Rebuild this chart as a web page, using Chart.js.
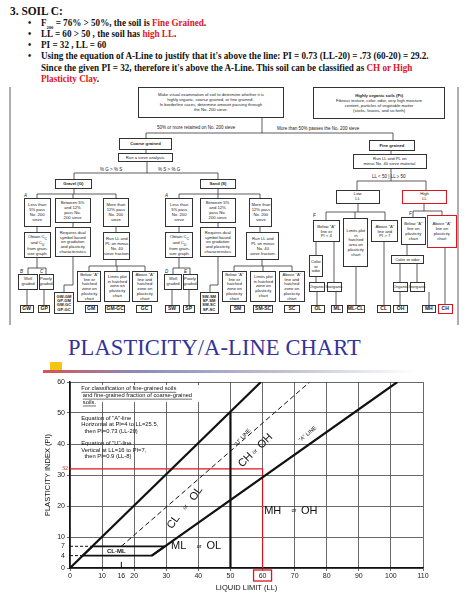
<!DOCTYPE html>
<html>
<head>
<meta charset="utf-8">
<script src="https://cdn.jsdelivr.net/npm/chart.js@4"></script>
<style>
  body { margin: 0; width: 474px; height: 602px; background: #fff; position: relative; overflow: hidden; font-family: "Liberation Serif", serif; }
  .hdr { position: absolute; font-weight: bold; font-size: 10px; color: #111; white-space: nowrap; transform: scaleX(0.91); transform-origin: left top; }
  .red { color: #e0141e; }
  .bx { position: absolute; border: 1px solid #333; box-sizing: border-box; font-family: "Liberation Sans", Arial, sans-serif;
        text-align: center; display: flex; align-items: center; justify-content: center; background: #fff; color: #222; }
  .bx span { display: block; font-size: 8.4px; line-height: 1.15; white-space: nowrap; transform: scale(0.5); }
  .code span { font-weight: bold; font-size: 10px; }
  .dual span { font-size: 8.2px; line-height: 1.05; }
  .rb { border: 1.5px solid #e0141e; }
  .lbl { position: absolute; font-family: "Liberation Sans", Arial, sans-serif; font-size: 9px; color: #222; white-space: nowrap; transform: scale(0.5); transform-origin: left top; }
  #title { position: absolute; left: 68px; top: 335px; font-size: 22.5px; color: #34339a; letter-spacing: 0.1px; }
  #chartBox { position: absolute; left: 0; top: 372px; width: 440px; height: 220px; }
</style>
</head>
<body>
<div class="hdr" style="left:10px;top:4px;font-size:12.5px">3. SOIL C:</div>
<div class="hdr" style="left:28px;top:17px">•</div><div class="hdr" style="left:41px;top:17px">F<sub style="font-size:5px">200</sub> = 76% &gt; 50%, the soil is <span class="red">Fine Grained</span>.</div>
<div class="hdr" style="left:28px;top:28px">•</div><div class="hdr" style="left:41px;top:28px">LL = 60 &gt; 50 , the soil has <span class="red">high LL</span>.</div>
<div class="hdr" style="left:28px;top:39px">•</div><div class="hdr" style="left:41px;top:39px">PI = 32 , LL = 60</div>
<div class="hdr" style="left:28px;top:50px">•</div><div class="hdr" style="left:41px;top:50px">Using the equation of A-Line to justify that it's above the line: PI = 0.73 (LL-20) = .73 (60-20) = 29.2.</div>
<div class="hdr" style="left:41px;top:62px">Since the given PI = 32, therefore it's above the A-Line. This soil can be classified as <span class="red">CH or High</span></div>
<div class="hdr" style="left:41px;top:73px"><span class="red">Plasticity Clay</span>.</div>

<svg id="links" width="474" height="330" style="position:absolute;left:0;top:0"></svg>
<div id="flow"></div>

<div id="title">PLASTICITY/A-LINE CHART</div>
<div style="position:absolute;left:50px;top:362px;width:12px;height:9px;background:#f3c515"></div>
<div style="position:absolute;left:43px;top:370px;width:372px;height:3px;background:linear-gradient(90deg,#d9534f,#8a8ab8 25%,#c8c8d8 70%,#fff)"></div>

<div id="chartBox"><canvas id="plasticityChart"></canvas></div>

<script>
// chart values
const llTicks = [0, 10, 16, 20, 30, 40, 50, 60, 70, 80, 90, 100, 110];
const piTicks = [0, 4, 7, 10, 20, 30, 40, 50, 60];
const upperLL = [0, 59.5];
const upperPI = [0, 60];
const aLineLL = [25.5, 102];
const aLinePI = [4, 60];
const uLineLL = [16, 74.7];
const uLinePI = [7, 60];
const clmlLL = [4, 25.5, 29.6, 7, 4];
const clmlPI = [4, 4, 7, 7, 4];
const dividerLL = [50, 50];
const dividerPI = [0, 50];
const soilLL = 60;
const soilPI = 32;

// flowchart boxes: x1, y1, x2, y2, text, class
const boxes = [
  [138, 87, 284, 118, 'Make visual examination of soil to determine whether it is<br>highly organic, coarse grained, or fine grained .<br>In borderline cases, determine amount passing through<br>the No. 200 sieve.', ''],
  [313, 87, 445, 119, '<b>Highly organic soils (Pt)</b><br>Fibrous texture, color, odor, very high moisture<br>content, particles of vegetable matter<br>(sticks, leaves, and so forth)', ''],
  [119, 138, 172, 150, '<b>Coarse grained</b>', ''],
  [118, 153, 173, 162, 'Run a sieve analysis.', ''],
  [369, 140, 415, 151, '<b>Fine grained</b>', ''],
  [353, 154, 427, 169, 'Run LL and PL on<br>minus No. 40 sieve material.', ''],
  [55, 179, 92, 189, '<b>Gravel (G)</b>', ''],
  [200, 179, 236, 189, '<b>Sand (S)</b>', ''],
  [336, 190, 380, 204, 'Low<br>LL', ''],
  [402, 190, 447, 204, 'High<br>LL', 'rb'],
  // gravel
  [24, 198, 51, 227, 'Less than<br>5% pass<br>No. 200<br>sieve', ''],
  [55, 198, 91, 223, 'Between 5%<br>and 12%<br>pass No.<br>200 sieve', ''],
  [103, 198, 129, 227, 'More than<br>12% pass<br>No. 200<br>sieve', ''],
  [24, 232, 51, 258, 'Obtain C<sub>C</sub><br>and C<sub>U</sub><br>from grain-<br>size graph.', ''],
  [55, 227, 91, 257, 'Requires dual<br>symbol based<br>on gradation<br>and plasticity<br>characteristics', ''],
  [103, 232, 130, 260, 'Run LL and<br>PL on minus<br>No. 40<br>sieve fraction.', ''],
  [18, 274, 38, 290, 'Well<br>graded', ''],
  [39, 274, 54, 290, 'Poorly<br>graded', ''],
  [77, 271, 101, 302, 'Below "A"<br>line or<br>hatched<br>zone on<br>plasticity<br>chart', ''],
  [104, 271, 130, 302, 'Limits plot<br>in hatched<br>zone on<br>plasticity<br>chart', ''],
  [132, 271, 158, 302, 'Above "A"<br>line and<br>hatched<br>zone on<br>plasticity<br>chart', ''],
  [54, 292, 74, 314, 'GW-GM<br>GP-GM<br>GW-GC<br>GP-GC', 'code dual'],
  [20, 305, 34, 313, 'GW', 'code'], [38, 305, 50, 313, 'GP', 'code'], [85, 305, 98, 313, 'GM', 'code'],
  [105, 305, 125, 313, 'GM-GC', 'code'], [136, 305, 152, 313, 'GC', 'code'],
  // sand
  [165, 198, 193, 227, 'Less than<br>5% pass<br>No. 200<br>sieve', ''],
  [200, 198, 236, 223, 'Between 5%<br>and 12%<br>pass No.<br>200 sieve', ''],
  [249, 198, 272, 227, 'More than<br>12% pass<br>No. 200<br>sieve', ''],
  [165, 232, 193, 258, 'Obtain C<sub>C</sub><br>and C<sub>U</sub><br>from grain-<br>size graph.', ''],
  [200, 227, 236, 257, 'Requires dual<br>symbol based<br>on gradation<br>and plasticity<br>characteristics', ''],
  [246, 232, 279, 260, 'Run LL and<br>PL on minus<br>No. 40<br>sieve fraction.', ''],
  [164, 274, 182, 290, 'Well<br>graded', ''],
  [183, 274, 198, 290, 'Poorly<br>graded', ''],
  [222, 271, 247, 302, 'Below "A"<br>line or<br>hatched<br>zone on<br>plasticity<br>chart', ''],
  [250, 271, 276, 302, 'Limits plot<br>in hatched<br>zone on<br>plasticity<br>chart', ''],
  [279, 271, 305, 302, 'Above "A"<br>line and<br>hatched<br>zone on<br>plasticity<br>chart', ''],
  [200, 292, 219, 314, 'SW-SM<br>SP-SM<br>SW-SC<br>SP-SC', 'code dual'],
  [165, 305, 180, 313, 'SW', 'code'], [183, 305, 195, 313, 'SP', 'code'], [230, 305, 245, 313, 'SM', 'code'],
  [253, 305, 273, 313, 'SM-SC', 'code'], [284, 305, 300, 313, 'SC', 'code'],
  // fine grained
  [313, 220, 340, 242, 'Below "A"<br>line or<br>PI &lt; 4', ''],
  [343, 218, 368, 267, 'Limits plot<br>in<br>hatched<br>area on<br>plasticity<br>chart', ''],
  [371, 220, 398, 242, 'Above "A"<br>line and<br>PI &gt; 7', ''],
  [309, 255, 323, 277, 'Color<br>or<br>odor', ''],
  [309, 282, 325, 292, 'Organic', ''], [327, 282, 342, 292, 'Inorganic', ''],
  [401, 217, 426, 245, 'Below "A"<br>line on<br>plasticity<br>chart', ''],
  [427, 215, 457, 248, 'Above "A"<br>line on<br>plasticity<br>chart', 'rb'],
  [391, 255, 424, 264, 'Color or odor', ''],
  [393, 282, 408, 292, 'Organic', ''], [410, 282, 425, 292, 'Inorganic', ''],
  [311, 305, 325, 313, 'OL', 'code'], [331, 305, 343, 313, 'ML', 'code'], [347, 305, 365, 313, 'ML-CL', 'code'],
  [377, 305, 391, 313, 'CL', 'code'], [393, 305, 408, 313, 'OH', 'code'], [422, 305, 436, 313, 'MH', 'code'],
  [438, 304, 453, 314, 'CH', 'code rb']
];

const links = [
  [10, 87, 10, 325], [458, 87, 458, 325],
  [262, 118, 262, 133], [146, 133, 393, 133], [146, 133, 146, 138], [393, 133, 393, 140],
  [146, 150, 146, 153], [147, 162, 147, 173], [74, 173, 218, 173], [74, 173, 74, 179], [218, 173, 218, 179],
  [74, 189, 74, 194], [37, 194, 116, 194], [37, 194, 37, 198], [73, 194, 73, 198], [116, 194, 116, 198],
  [37, 227, 37, 232], [73, 223, 73, 227], [116, 227, 116, 232],
  [37, 258, 37, 268], [28, 268, 46, 268], [28, 268, 28, 274], [46, 268, 46, 274],
  [27, 290, 27, 305], [44, 290, 44, 305], [73, 257, 73, 285], [64, 285, 73, 285], [64, 285, 64, 292],
  [116, 260, 116, 266], [89, 266, 145, 266], [89, 266, 89, 271], [117, 266, 117, 271], [145, 266, 145, 271],
  [218, 189, 218, 194], [179, 194, 260, 194], [179, 194, 179, 198], [218, 194, 218, 198], [260, 194, 260, 198],
  [179, 227, 179, 232], [218, 223, 218, 227], [260, 227, 260, 232],
  [179, 258, 179, 268], [173, 268, 190, 268], [173, 268, 173, 274], [190, 268, 190, 274],
  [172, 290, 172, 305], [189, 290, 189, 305], [218, 257, 218, 285], [210, 285, 218, 285], [210, 285, 210, 292],
  [262, 260, 262, 266], [234, 266, 292, 266], [234, 266, 234, 271], [263, 266, 263, 271], [292, 266, 292, 271],
  [391, 151, 391, 154], [391, 169, 391, 181], [357, 181, 426, 181], [357, 181, 357, 190], [426, 181, 426, 190],
  [358, 204, 358, 212], [326, 212, 385, 212], [326, 212, 326, 220], [355, 212, 355, 218], [385, 212, 385, 220],
  [316, 242, 316, 255], [316, 277, 316, 282], [317, 292, 317, 305], [334, 242, 334, 282], [336, 292, 336, 305],
  [356, 267, 356, 305], [384, 242, 384, 305],
  [424, 204, 424, 211], [413, 211, 442, 211], [413, 211, 413, 217], [442, 211, 442, 215],
  [407, 245, 407, 255], [400, 264, 400, 282], [400, 292, 400, 305], [417, 264, 417, 282], [429, 292, 429, 305],
  [445, 248, 445, 304]
];

const labels = [
  [157, 125, '50% or more retained on No. 200 sieve'], [277, 126, 'More than 50% passes the No. 200 sieve'],
  [100, 167, '% G &gt; % S'], [158, 167, '% S &gt; % G'], [372, 174, 'LL &lt; 50 | LL ≥ 50'],
  [24, 193, '<i>A</i>'], [165, 193, '<i>A</i>'], [20, 269, '<i>B</i>'], [40, 269, '<i>C</i>'],
  [165, 269, '<i>D</i>'], [184, 269, '<i>E</i>'], [313, 213, '<i>F</i>'], [409, 211, '<i>F</i>']
];

function buildFlow() {
  const flow = document.getElementById('flow');
  flow.innerHTML = boxes.map(b => `<div class="bx ${b[5]}" style="left:${b[0]}px;top:${b[1]}px;width:${b[2] - b[0]}px;height:${b[3] - b[1]}px"><span>${b[4]}</span></div>`).join('')
    + labels.map(l => `<div class="lbl" style="left:${l[0]}px;top:${l[1]}px">${l[2]}</div>`).join('');
  document.getElementById('links').innerHTML = links.map(s => `<line x1="${s[0]}" y1="${s[1]}" x2="${s[2]}" y2="${s[3]}" stroke="#333" stroke-width="0.8"/>`).join('');
}

function toPoints(xs, ys) {
  return xs.map((x, i) => ({ x: x, y: ys[i] }));
}

function hatchPattern() {
  const c = document.createElement('canvas');
  c.width = 5; c.height = 5;
  const g = c.getContext('2d');
  g.strokeStyle = '#222';
  g.lineWidth = 0.8;
  g.beginPath(); g.moveTo(0, 5); g.lineTo(5, 0); g.stroke();
  return g.createPattern(c, 'repeat');
}

const lineSet = (pts, opts) => Object.assign({
  data: pts, showLine: true, pointRadius: 0, borderColor: '#111', borderWidth: 2.2, fill: false
}, opts);

// text inside the chart, placed in data units
const notes = {
  id: 'notes',
  afterDatasetsDraw(chart) {
    const { ctx, scales: { x, y }, chartArea } = chart;
    const put = (ll, pi, text, size, rot, weight) => {
      ctx.save();
      ctx.translate(x.getPixelForValue(ll), y.getPixelForValue(pi));
      ctx.rotate((rot || 0) * Math.PI / 180);
      ctx.font = (weight || '') + ' ' + size + 'px "Liberation Sans", Arial, sans-serif';
      ctx.fillStyle = '#111';
      ctx.textBaseline = 'middle';
      ctx.fillText(text, 0, 0);
      ctx.restore();
    };
    ctx.fillStyle = '#fff';
    ctx.fillRect(x.getPixelForValue(3.5), y.getPixelForValue(59), x.getPixelForValue(48) - x.getPixelForValue(3.5), y.getPixelForValue(53.5) - y.getPixelForValue(59));
    const intro = ['For classification of fine-grained soils', 'and fine-grained fraction of coarse-grained', 'soils.'];
    intro.forEach((t, i) => {
      put(3.5 + (i ? 0.5 : 0), 57.8 - i * 2.2, t, 5.8);
      ctx.save();
      ctx.font = '5.8px "Liberation Sans", Arial, sans-serif';
      const w = ctx.measureText(t).width;
      const px = x.getPixelForValue(3.5 + (i ? 0.5 : 0)), py = y.getPixelForValue(57.8 - i * 2.2) + 3.5;
      ctx.strokeStyle = '#111'; ctx.lineWidth = 0.6;
      ctx.beginPath(); ctx.moveTo(px, py); ctx.lineTo(px + w, py); ctx.stroke();
      ctx.restore();
    });
    const eq = ['Equation of "A"-line', 'Horizontal at PI=4 to LL=25.5,', '  then PI=0.73 (LL-20)', '', 'Equation of "U"-line', 'Vertical at LL=16 to PI=7,', '  then PI=0.9 (LL-8)'];
    eq.forEach((t, i) => { if (t) put(3.5, 48.3 - i * 2.05, t, 5.8); });

    put(31, 13, 'CL', 11, -55); put(35.5, 19, 'or', 5.5, -55); put(38, 22, 'OL', 11, -55);
    put(53, 33, 'CH', 11, -45); put(57, 37, 'or', 5.5, -45); put(59, 39, 'OH', 11, -45);
    put(60.5, 18.5, 'MH', 11); put(69, 18.5, 'or', 5.5); put(72, 18.5, 'OH', 11);
    put(31.5, 7, 'ML', 11); put(39.5, 7, 'or', 5.5); put(42.5, 7, 'OL', 11);
    put(11.5, 5.5, 'CL-ML', 6, 0, 'bold');
    put(51.5, 39.5, '"U" LINE', 5.5, -48);
    put(71.5, 41, '"A" LINE', 5.5, -40);

    // red marks for the given soil
    ctx.save();
    ctx.strokeStyle = '#e0141e';
    ctx.lineWidth = 1.3;
    const bx = x.getPixelForValue(soilLL);
    ctx.strokeRect(bx - 9, chartArea.bottom + 2, 18, 11);
    ctx.fillStyle = '#e0141e';
    ctx.font = '6px "Liberation Serif", serif';
    ctx.textAlign = 'right';
    ctx.textBaseline = 'middle';
    ctx.fillText(String(soilPI), chartArea.left - 2, y.getPixelForValue(soilPI));
    ctx.restore();
  }
};

function initChart() {
  const ctx = document.getElementById('plasticityChart').getContext('2d');
  const tickFont = { family: '"Liberation Sans", Arial, sans-serif', size: 7 };
  new Chart(ctx, {
    type: 'scatter',
    data: {
      datasets: [
        lineSet(toPoints(clmlLL, clmlPI), { borderWidth: 1.8, fill: true, backgroundColor: hatchPattern() }),
        lineSet(toPoints([0, 7], [7, 7]), { borderWidth: 1, borderDash: [3, 2] }),
        lineSet(toPoints([0, 4], [4, 4]), { borderWidth: 1, borderDash: [3, 2] }),
        lineSet(toPoints([16, 16], [0, 2]), { borderWidth: 1 }),
        lineSet(toPoints(uLineLL, uLinePI), { borderWidth: 1, borderDash: [5, 3] }),
        lineSet(toPoints(upperLL, upperPI)),
        lineSet(toPoints(aLineLL, aLinePI)),
        lineSet(toPoints(dividerLL, dividerPI)),
        lineSet(toPoints([0, soilLL, soilLL], [soilPI, soilPI, 0]), { borderColor: '#e0141e', borderWidth: 1.2 })
      ]
    },
    options: {
      responsive: true,
      maintainAspectRatio: false,
      animation: false,
      layout: { padding: { top: 10, right: 17, left: 42, bottom: 0 } },
      plugins: { legend: { display: false }, tooltip: { enabled: false } },
      scales: {
        x: {
          type: 'linear', min: 0, max: 110,
          afterBuildTicks: s => { s.ticks = llTicks.map(v => ({ value: v })); },
          afterFit: s => { s.height = 24; },
          ticks: { font: tickFont, color: '#222', padding: 1, maxRotation: 0, autoSkip: false },
          grid: { color: c => (c.tick && c.tick.value % 10 === 0 ? '#444' : 'transparent'), lineWidth: 0.8, tickLength: 3 },
          border: { color: '#111', width: 1.5 },
          title: { display: true, text: 'LIQUID LIMIT (LL)', font: { family: '"Liberation Sans", Arial, sans-serif', size: 7.5 }, color: '#111', padding: 0 }
        },
        y: {
          type: 'linear', min: 0, max: 60,
          afterBuildTicks: s => { s.ticks = piTicks.map(v => ({ value: v })); },
          afterFit: s => { s.width = 28; },
          ticks: { font: tickFont, color: '#222', padding: 2, autoSkip: false },
          grid: { color: c => (c.tick && c.tick.value % 10 === 0 ? '#444' : 'transparent'), lineWidth: 0.8, tickLength: 3 },
          border: { color: '#111', width: 1.5 },
          title: { display: false }
        }
      }
    },
    plugins: [notes, {
      id: 'yTitle',
      afterDraw(chart) {
        const { ctx, chartArea } = chart;
        ctx.save();
        ctx.translate(48, (chartArea.top + chartArea.bottom) / 2);
        ctx.rotate(-Math.PI / 2);
        ctx.font = '7.5px "Liberation Sans", Arial, sans-serif';
        ctx.fillStyle = '#111';
        ctx.textAlign = 'center';
        ctx.textBaseline = 'middle';
        ctx.fillText('PLASTICITY INDEX (PI)', 0, 0);
        ctx.restore();
      }
    }]
  });
}

buildFlow();
initChart();
</script>
</body>
</html>
